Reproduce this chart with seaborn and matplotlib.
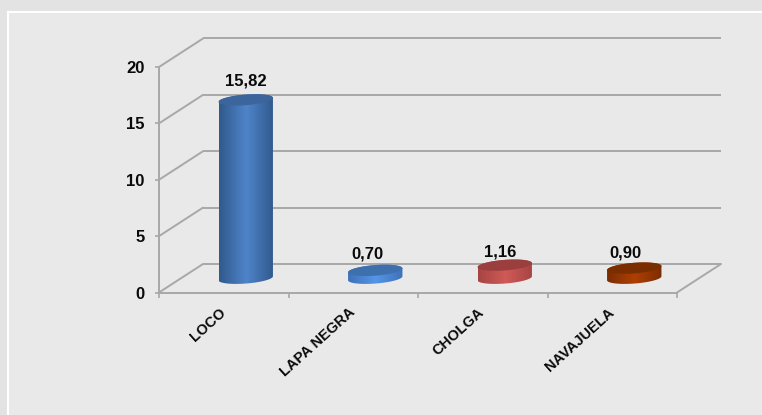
import numpy as np
import pandas as pd
import matplotlib
matplotlib.use("Agg")
import matplotlib.pyplot as plt
import seaborn as sns
from matplotlib.colors import LinearSegmentedColormap
from matplotlib.patches import Polygon, Rectangle
from matplotlib.transforms import ScaledTranslation

# Values
sites = ["LOCO", "LAPA NEGRA", "CHOLGA", "NAVAJUELA"]
values = [15.82, 0.70, 1.16, 0.90]
value_labels = ["15,82", "0,70", "1,16", "0,90"]
y_ticks = [0, 5, 10, 15, 20]

# Cylinder colours: edge of body, middle of body, top cap
body_edge = ["#31598c", "#3f72b8", "#a54543", "#7a2d02"]
body_mid = ["#4f84ca", "#5595e8", "#d05a58", "#b03f02"]
cap_color = ["#3b659b", "#3f70ae", "#9b3f3e", "#7a2e00"]
palette = dict(zip(sites, body_mid))

# label shift from the cylinder centre, in pixels
label_shift = [(0, 19), (-8, 16), (-5, 13), (-9, 15)]

W, H = 762, 415
LEFT, RIGHT, TOP, BOTTOM = 159, 677, 67, 292.5
GRID = "#a8a8a8"
INK = "#0a0a0a"

sns.set_theme(style="white")
plt.rcParams["font.family"] = ["Liberation Sans", "DejaVu Sans"]

fig = plt.figure(figsize=(W / 100, H / 100), dpi=100, facecolor="#e3e3e3")

# panel with white border behind the chart
panel = fig.add_axes([0, 0, 1, 1], zorder=0)
panel.set_xlim(0, W)
panel.set_ylim(H, 0)
panel.axis("off")
panel.add_patch(Rectangle((7.5, 12.5), W + 20, H + 20, facecolor="#e9e9e9", edgecolor="white", linewidth=1.5))

ax = fig.add_axes([LEFT / W, 1 - BOTTOM / H, (RIGHT - LEFT) / W, (BOTTOM - TOP) / H], zorder=1)
ax.patch.set_alpha(0)

df = pd.DataFrame({"site": sites, "value": values})
sns.barplot(data=df, x="site", y="value", hue="site", palette=palette, width=0.42,
            dodge=False, legend=False, saturation=1, ax=ax, zorder=3)

ax.set_xlim(-0.5, 3.5)
ax.set_ylim(0, 20)

# depth of the fake 3D box, in data units
px_x = (RIGHT - LEFT) / 4
px_y = (BOTTOM - TOP) / 20
dx = 44 / px_x
dy = 28.5 / px_y

# back wall, side wall and floor
back = [t + dy for t in y_ticks]
ax.hlines(back, -0.5 + dx, 3.5 + dx, color=GRID, linewidth=1.4, clip_on=False, zorder=1)
for t in y_ticks:
    ax.plot([-0.5, -0.5 + dx], [t, t + dy], color=GRID, linewidth=1.4, clip_on=False, zorder=1)
ax.plot([3.5, 3.5 + dx], [0, dy], color=GRID, linewidth=1.4, clip_on=False, zorder=1)

a = 0.21
b = 5.3 / px_y
shear = (4.0 / px_y) / (2 * a)


def ellipse_points(cx, cy, start=0.0, stop=2 * np.pi):
    t = np.linspace(start, stop, 80)
    x = a * np.cos(t)
    return np.column_stack([cx + x, cy + b * np.sin(t) + shear * x])


for i, bar in enumerate(ax.patches):
    cx = i + dx / 2
    y0 = dy / 2
    y1 = y0 + values[i]
    bar.set_visible(False)

    cmap = LinearSegmentedColormap.from_list("c", [body_edge[i], body_mid[i], body_edge[i]])
    grad = np.linspace(0, 1, 128).reshape(1, -1)
    # cylinder side: lower half of the base ellipse joined to the top ellipse
    outline = np.vstack([ellipse_points(cx, y0, np.pi, 2 * np.pi), ellipse_points(cx, y1, 0, np.pi)])
    shape = Polygon(outline, transform=ax.transData)
    im = ax.imshow(grad, cmap=cmap, aspect="auto", zorder=3,
                   extent=(cx - a, cx + a, y0 - 2 * b, y1 + 2 * b))
    im.set_clip_path(shape)
    ax.add_patch(Polygon(ellipse_points(cx, y1), facecolor=cap_color[i], edgecolor="none", zorder=4))

    sx, sy = label_shift[i]
    ax.annotate(value_labels[i], (cx, y1), xytext=(sx * 0.72, sy * 0.72), textcoords="offset points",
                ha="center", va="center", fontsize=12, fontweight="bold", color=INK, zorder=5)

ax.set_xlim(-0.5, 3.5)
ax.set_ylim(0, 20)

sns.despine(ax=ax)
for side in ["left", "bottom"]:
    ax.spines[side].set_color(GRID)
    ax.spines[side].set_linewidth(1.4)

ax.set_xlabel("")
ax.set_ylabel("")
ax.set_yticks(y_ticks)
ax.set_yticklabels([str(t) for t in y_ticks], fontsize=12, fontweight="bold", color=INK)
ax.tick_params(axis="y", length=3, width=1.2, color=GRID, pad=7.5, left=True)

ax.set_xticks(range(len(sites)))
ax.set_xticklabels(sites, fontsize=10.5, fontweight="bold", color=INK, rotation=42, ha="right", rotation_mode="anchor")
ax.set_xticks(np.arange(-0.5, 4, 1), minor=True)
ax.tick_params(axis="x", which="major", length=0, pad=9)
ax.tick_params(axis="x", which="minor", length=3.5, width=1.2, color=GRID, bottom=True)

# nudge the slanted labels left of their slot centre
nudge = ScaledTranslation(-5 / 100, 0, fig.dpi_scale_trans)
for label in ax.get_xticklabels():
    label.set_transform(label.get_transform() + nudge)

fig.savefig("out.png", dpi=100, facecolor=fig.get_facecolor())
